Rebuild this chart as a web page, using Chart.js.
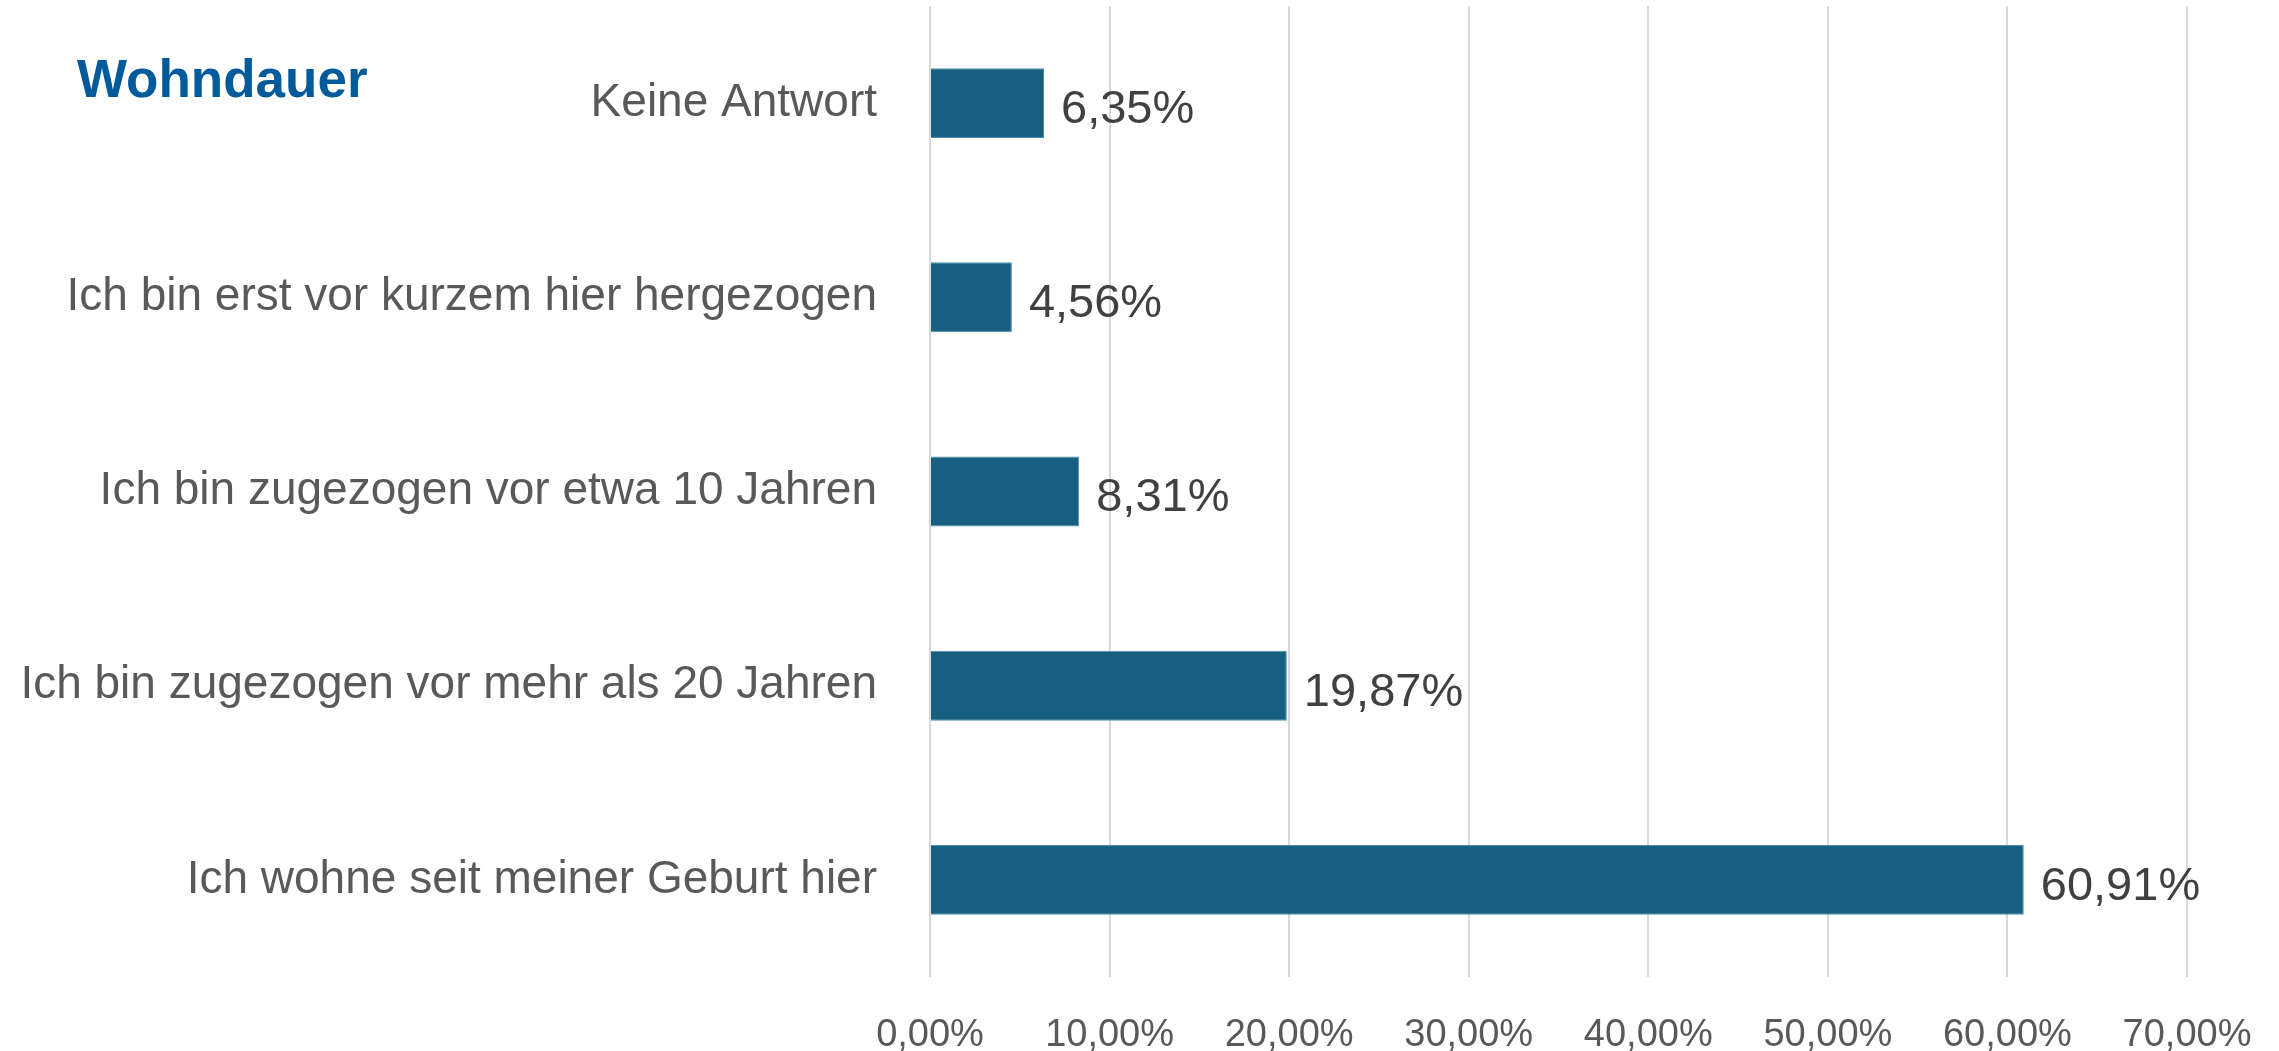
<!DOCTYPE html>
<html lang="de">
<head>
<meta charset="utf-8">
<title>Wohndauer</title>
<script src="https://cdn.jsdelivr.net/npm/chart.js@4.4.1/dist/chart.umd.min.js"></script>
<style>
  html, body { margin: 0; padding: 0; background: #fff; }
  #wrap { position: relative; width: 2279px; height: 1051px; }
  #title {
    position: absolute; left: 77px; top: 52px;
    font: bold 53px "Liberation Sans", Arial, sans-serif;
    line-height: 1; color: #015a9c; white-space: nowrap;
  }
</style>
</head>
<body>
<div id="wrap">
  <canvas id="chart" width="2279" height="1051"></canvas>
  <div id="title">Wohndauer</div>
</div>
<script>
  const categories = [
    "Keine Antwort",
    "Ich bin erst vor kurzem hier hergezogen",
    "Ich bin zugezogen vor etwa 10 Jahren",
    "Ich bin zugezogen vor mehr als 20 Jahren",
    "Ich wohne seit meiner Geburt hier",
  ];
  const shares = [6.35, 4.56, 8.31, 19.87, 60.91];
  const axisMin = 0;
  const axisMax = 70;
  const axisStep = 10;

  const pct = (v) => v.toFixed(2).replace(".", ",") + "%";

  // value labels to the right of each bar
  const barLabels = {
    id: "barLabels",
    afterDatasetsDraw(chart) {
      const ctx = chart.ctx;
      const meta = chart.getDatasetMeta(0);
      ctx.save();
      ctx.font = '47px "Liberation Sans", Arial, sans-serif';
      ctx.fillStyle = "#404040";
      ctx.textAlign = "left";
      ctx.textBaseline = "middle";
      meta.data.forEach((bar, i) => {
        ctx.fillText(pct(shares[i]), bar.x + 17, bar.y + 7);
      });
      ctx.restore();
    },
  };

  document.addEventListener("DOMContentLoaded", () => {
    const ctx = document.getElementById("chart").getContext("2d");
    new Chart(ctx, {
      type: "bar",
      data: {
        labels: categories,
        datasets: [
          {
            data: shares,
            backgroundColor: "#175f81",
            borderColor: "#4d8fb0",
            borderWidth: 1,
            categoryPercentage: 1,
            barPercentage: 0.36,
          },
        ],
      },
      options: {
        indexAxis: "y",
        responsive: false,
        animation: false,
        devicePixelRatio: 1,
        layout: { padding: { top: 6, right: 92, left: 0, bottom: 0 } },
        plugins: {
          legend: { display: false },
          tooltip: { enabled: false },
        },
        scales: {
          x: {
            min: axisMin,
            max: axisMax,
            grid: { color: "#d9d9d9", lineWidth: 2, drawTicks: false },
            border: { display: false },
            ticks: {
              stepSize: axisStep,
              color: "#595959",
              padding: 36,
              font: { family: '"Liberation Sans", Arial, sans-serif', size: 38 },
              callback: (v) => pct(v),
            },
            afterFit: (scale) => {
              scale.height = 74;
              scale.paddingLeft = 0;
              scale.paddingRight = 0;
            },
          },
          y: {
            grid: { display: false, drawTicks: false },
            border: { display: false },
            ticks: {
              color: "#595959",
              padding: 53,
              font: { family: '"Liberation Sans", Arial, sans-serif', size: 46 },
            },
            afterFit: (scale) => {
              scale.width = 930;
              scale.paddingTop = 0;
              scale.paddingBottom = 0;
            },
          },
        },
      },
      plugins: [barLabels],
    });
  });
</script>
</body>
</html>
